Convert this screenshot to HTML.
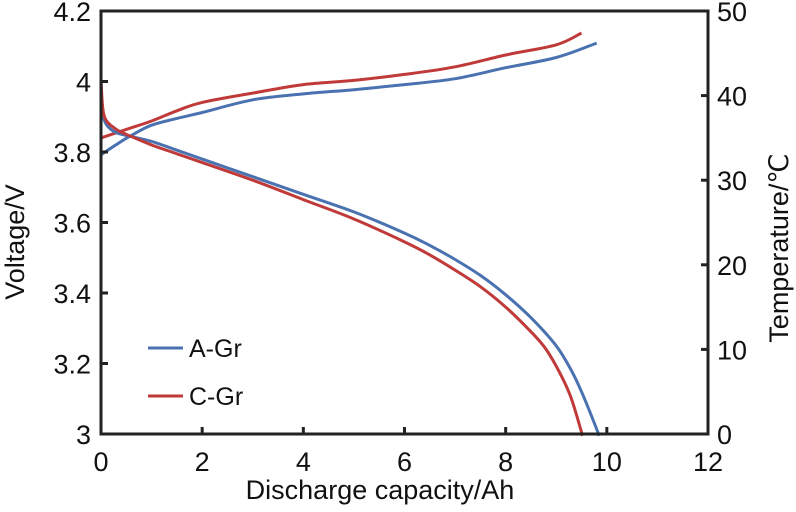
<!DOCTYPE html>
<html><head><meta charset="utf-8"><style>
body{margin:0;background:#fff}
svg text{font-family:"Liberation Sans",Arial,sans-serif;fill:#111}
</style></head><body>
<svg id="chart" width="796" height="507" xmlns="http://www.w3.org/2000/svg"></svg>
<script>
const xTicks=[0,2,4,6,8,10,12];
const yTicks=[3,3.2,3.4,3.6,3.8,4,4.2];
const y2Ticks=[0,10,20,30,40,50];
const aVoltX=[0,0.03,0.08,0.15,0.3,0.5,1,1.5,2,3,4,5,6,6.5,7,7.5,8,8.5,9,9.3,9.5,9.7,9.85];
const aVoltY=[3.95,3.91,3.885,3.87,3.855,3.847,3.83,3.805,3.78,3.73,3.68,3.63,3.57,3.535,3.495,3.45,3.395,3.33,3.25,3.18,3.12,3.05,2.995];
const cVoltX=[0,0.02,0.05,0.1,0.2,0.35,0.5,1,1.5,2,3,4,5,6,6.5,7,7.5,8,8.5,8.8,9.1,9.3,9.52];
const cVoltY=[4.01,3.95,3.91,3.89,3.875,3.86,3.85,3.82,3.795,3.77,3.72,3.665,3.61,3.545,3.508,3.465,3.418,3.36,3.29,3.24,3.165,3.1,2.995];
const aTempX=[0,0.3,0.6,1,1.5,2,3,4,5,6,7,8,9,9.8];
const aTempY=[33,34.2,35.3,36.5,37.3,38,39.5,40.2,40.7,41.3,42,43.3,44.5,46.2];
const cTempX=[0,0.5,1,1.5,2,3,4,5,6,7,8,9,9.5];
const cTempY=[35,36,37,38.2,39.2,40.3,41.3,41.8,42.5,43.4,44.8,46,47.4];
const L=101,R=708,T=11,B=434;
const sx=v=>L+(v/12)*(R-L);
const sy=v=>B-(v-3)/1.2*(B-T);
const sy2=v=>B-v/50*(B-T);
const svg=document.getElementById('chart');
const NS='http://www.w3.org/2000/svg';
function mk(tag,at,txt){const e=document.createElementNS(NS,tag);for(const k in at)e.setAttribute(k,at[k]);if(txt!==undefined)e.textContent=txt;svg.appendChild(e);return e;}
function line(xs,ys,fy,color,name){
 const P=xs.map((x,i)=>[sx(x),fy(ys[i])]);
 let d='M'+P[0][0].toFixed(1)+','+P[0][1].toFixed(1);
 for(let i=0;i<P.length-1;i++){
  const p0=P[i-1]||P[i],p1=P[i],p2=P[i+1],p3=P[i+2]||p2;
  const c1=[p1[0]+(p2[0]-p0[0])/6,p1[1]+(p2[1]-p0[1])/6];
  const c2=[p2[0]-(p3[0]-p1[0])/6,p2[1]-(p3[1]-p1[1])/6];
  d+='C'+c1.map(v=>v.toFixed(1))+' '+c2.map(v=>v.toFixed(1))+' '+p2.map(v=>v.toFixed(1));
 }
 const p=mk('path',{d:d,fill:'none',stroke:color,'stroke-width':3,'stroke-linejoin':'round'});
 
 
}
line(aTempX,aTempY,sy2,'#4a72b0','a-gr-temperature-line');
line(cTempX,cTempY,sy2,'#c03a3a','c-gr-temperature-line');
line(aVoltX,aVoltY,sy,'#4a72b0','a-gr-voltage-line');
line(cVoltX,cVoltY,sy,'#c03a3a','c-gr-voltage-line');
const fr=mk('rect',{x:L,y:T,width:R-L,height:B-T,fill:'none',stroke:'#222','stroke-width':3});


xTicks.forEach(v=>{
 mk('line',{x1:sx(v),x2:sx(v),y1:B,y2:B-7,stroke:'#222','stroke-width':3});
 const t=mk('text',{x:sx(v),y:B+37,'font-size':27,'text-anchor':'middle'},v);
 
 
});
yTicks.forEach(v=>{
 mk('line',{x1:L,x2:L+7,y1:sy(v),y2:sy(v),stroke:'#222','stroke-width':3});
 const t=mk('text',{x:L-10,y:sy(v)+10,'font-size':27,'text-anchor':'end'},String(v));
 
 
});
y2Ticks.forEach(v=>{
 mk('line',{x1:R,x2:R-7,y1:sy2(v),y2:sy2(v),stroke:'#222','stroke-width':3});
 const t=mk('text',{x:R+9,y:sy2(v)+10,'font-size':27},v);
 
 
});
const xt=mk('text',{x:380,y:499,'font-size':27,'text-anchor':'middle'},'Discharge capacity/Ah');


const yt=mk('text',{x:0,y:0,'font-size':27,'text-anchor':'middle',transform:'translate(24,242) rotate(-90)'},'Voltage/V');


const y2t=mk('text',{x:0,y:0,'font-size':27,'text-anchor':'middle',transform:'translate(788,248) rotate(-90)'},'Temperature/℃');


[['A-Gr','#4a72b0',348],['C-Gr','#c03a3a',396]].forEach(([n,c,y])=>{
 const l=mk('line',{x1:148,x2:183,y1:y,y2:y,stroke:c,'stroke-width':3});
 
 
 const t=mk('text',{x:189,y:y+9,'font-size':25},n);
 
 
});
</script>
</body></html>
